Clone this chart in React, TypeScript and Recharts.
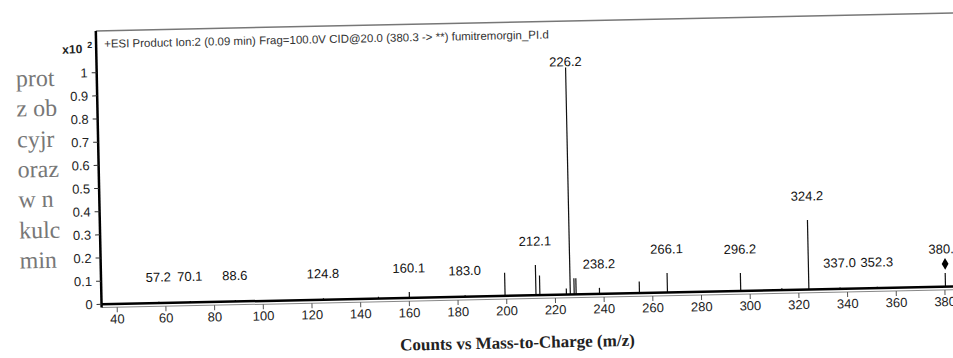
import React from 'react';
import { ComposedChart, Bar, Scatter, XAxis, YAxis, ZAxis, ReferenceLine } from 'recharts';

// product ion spectrum, intensities in x10^2 counts
const peakMz = [57.2, 70.1, 88.6, 124.8, 147.4, 160.1, 183.0, 199.4, 212.1, 213.7, 224.6, 226.2, 227.8, 228.6, 238.2, 254.6, 266.1, 296.2, 313.1, 324.2, 337.0, 352.3, 380.3];
const peakIntensity = [0.006, 0.006, 0.006, 0.006, 0.008, 0.025, 0.006, 0.1, 0.13, 0.085, 0.026, 0.98, 0.07, 0.07, 0.026, 0.05, 0.084, 0.077, 0.008, 0.3, 0.006, 0.006, 0.059];
const peakLabels = ['57.2', '70.1', '88.6', '124.8', '', '160.1', '183.0', '', '212.1', '', '', '226.2', '', '', '238.2', '', '266.1', '296.2', '', '324.2', '337.0', '352.3', '380.3'];

const precursorMz = [380.3];
const precursorLevel = [0.098];

const xTicks = [40, 60, 80, 100, 120, 140, 160, 180, 200, 220, 240, 260, 280, 300, 320, 340, 360, 380];
const yTicks = [0, 0.1, 0.2, 0.3, 0.4, 0.5, 0.6, 0.7, 0.8, 0.9, 1];

const headerText = '+ESI Product Ion:2 (0.09 min) Frag=100.0V CID@20.0 (380.3 -> **) fumitremorgin_PI.d';
const axisTitle = 'Counts vs Mass-to-Charge (m/z)';
// fragments of the book page to the left of the figure
const sideWords = ['prot', 'z ob', 'cyjr', 'oraz', 'w n', 'kulc', 'min'];

const peaks = peakMz.map((mz, i) => ({ mz, intensity: peakIntensity[i], label: peakLabels[i] }));
const precursor = precursorMz.map((mz, i) => ({ mz, level: precursorLevel[i] }));

const TOP = 23;
const SANS = '"Liberation Sans", Arial, sans-serif';
const SERIF = '"Liberation Serif", "Times New Roman", serif';

function PeakShape(props: any) {
  const { x, y, width, height, payload } = props;
  const cx = x + width / 2;
  const bottom = y + height;
  // labels sit a fixed distance above the peak, but not above the y=1 line area
  const labelY = Math.max(TOP + 40.6, Math.min(y, bottom - 2) - 24);
  return (
    <g>
      <line x1={cx} x2={cx} y1={y} y2={bottom} stroke="#111" strokeWidth={1.2} />
      {payload.label ? (
        <text x={cx} y={labelY + 4.5} textAnchor="middle" fontSize={13} fontFamily={SANS} fill="#111">
          {payload.label}
        </text>
      ) : null}
    </g>
  );
}

export default function App() {
  return (
    <div style={{ position: 'fixed', left: 0, top: 0, width: 953, height: 358, overflow: 'hidden', background: '#fff' }}>
      <div
        style={{
          position: 'absolute',
          left: 0,
          top: 0,
          width: 1000,
          height: 358,
          transform: 'rotate(-1.2deg)',
          transformOrigin: '476px 179px',
        }}
      >
        <div style={{ position: 'absolute', left: 0, top: 0, width: 60, height: 300, overflow: 'hidden' }}>
          {sideWords.map((w, i) => (
            <div
              key={w}
              style={{
                position: 'absolute',
                left: 18,
                top: 56 + i * 30.3,
                fontFamily: SERIF,
                fontSize: 24,
                lineHeight: '26px',
                color: '#777',
                whiteSpace: 'nowrap',
              }}
            >
              {w}
            </div>
          ))}
        </div>

        <div style={{ position: 'absolute', left: 0, top: 0 }}>
          <ComposedChart width={1000} height={358} data={peaks} margin={{ top: TOP, right: 30, bottom: 28.3, left: 39 }}>
            <XAxis
              type="number"
              dataKey="mz"
              domain={[33.6, 391.3]}
              ticks={xTicks}
              allowDataOverflow
              height={30}
              axisLine={{ stroke: '#888', strokeWidth: 1 }}
              tickLine={{ stroke: '#555' }}
              tickSize={5}
              tick={{ fill: '#222', fontSize: 13, fontFamily: SANS }}
            />
            <YAxis
              type="number"
              domain={[-0.014, 1.18]}
              ticks={yTicks}
              allowDataOverflow
              width={60}
              axisLine={{ stroke: '#000', strokeWidth: 2.5 }}
              tickLine={{ stroke: '#333' }}
              tickSize={5}
              tickMargin={4}
              tick={{ fill: '#222', fontSize: 13, fontFamily: SANS }}
            />
            <ZAxis range={[40, 40]} />
            <ReferenceLine y={1.18} stroke="#777" strokeWidth={1.5} ifOverflow="visible" />
            <ReferenceLine y={0} stroke="#000" strokeWidth={2.5} />
            <Bar dataKey="intensity" barSize={2} shape={<PeakShape />} isAnimationActive={false} />
            <Scatter data={precursor} dataKey="level" shape="diamond" fill="#000" isAnimationActive={false} />
          </ComposedChart>
        </div>

        <div
          style={{
            position: 'absolute',
            left: 107,
            top: 30.4,
            fontFamily: SANS,
            fontSize: 11.5,
            lineHeight: '13px',
            color: '#333',
            whiteSpace: 'nowrap',
          }}
        >
          {headerText}
        </div>

        <div
          style={{
            position: 'absolute',
            left: 65,
            top: 30,
            fontFamily: SANS,
            fontSize: 12,
            fontWeight: 'bold',
            lineHeight: '14px',
            color: '#222',
            whiteSpace: 'nowrap',
          }}
        >
          x10<sup style={{ fontSize: 9, marginLeft: 5 }}>2</sup>
        </div>

        <div
          style={{
            position: 'absolute',
            left: 314,
            top: 333.8,
            width: 400,
            textAlign: 'center',
            fontFamily: SERIF,
            fontSize: 17,
            fontWeight: 'bold',
            lineHeight: '20px',
            color: '#222',
          }}
        >
          {axisTitle}
        </div>
      </div>
    </div>
  );
}
